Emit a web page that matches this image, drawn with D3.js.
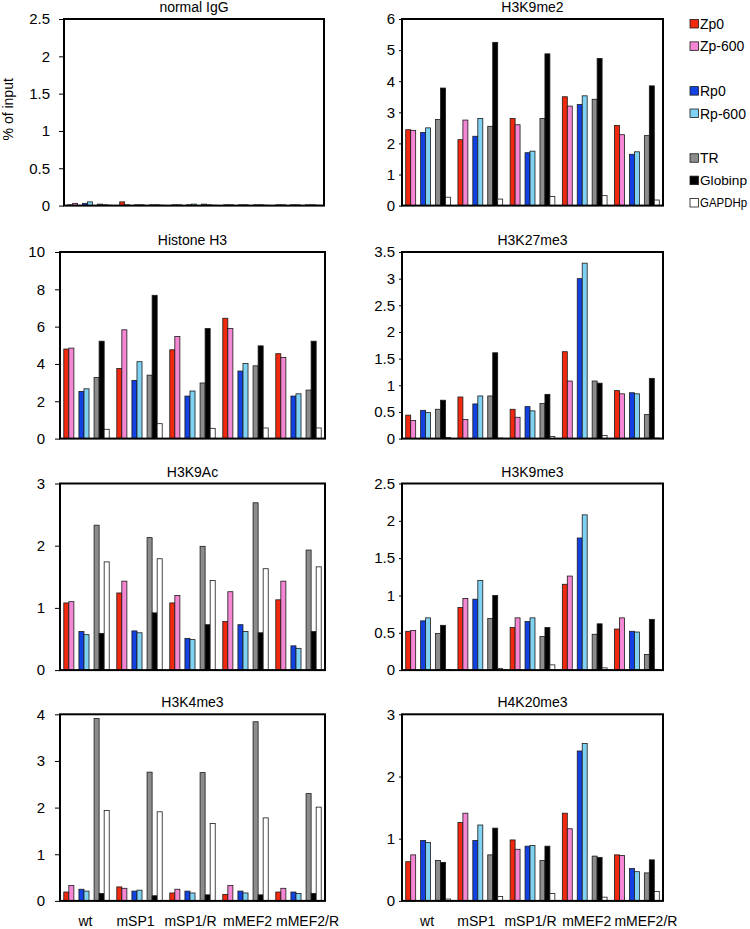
<!DOCTYPE html>
<html><head><meta charset="utf-8">
<script src="https://cdn.jsdelivr.net/npm/d3@7"></script>
<style>
body{margin:0;background:#fff;}
svg{display:block;}
text{font-family:Arial,"Liberation Sans",Helvetica,sans-serif;fill:#000;}
</style>
</head><body>
<svg id="chart" width="750" height="929"></svg>
<script>
// ---------- DATA ----------
const groups = ["wt", "mSP1", "mSP1/R", "mMEF2", "mMEF2/R"];
const series = ["Zp0", "Zp-600", "Rp0", "Rp-600", "TR", "Globinp", "GAPDHp"];
// layout slots of the original clustered chart (two blank spacer series)
const slots = ["Zp0", "Zp-600", "_gap1", "Rp0", "Rp-600", "_gap2", "TR", "Globinp", "GAPDHp"];
const seriesColors = ["#f0290f", "#f586d3", "#1243e2", "#80d2f3", "#8c8c8c", "#000000", "#ffffff"];

// values: one row per group, columns follow `series`
const normalIgG = [
  [0.01, 0.03, 0.03, 0.05, 0.02, 0.01, 0.005],
  [0.05, 0.01, 0.01, 0.01, 0.01, 0.01, 0.005],
  [0.01, 0.01, 0.01, 0.02, 0.02, 0.01, 0.005],
  [0.01, 0.01, 0.01, 0.01, 0.01, 0.01, 0.005],
  [0.01, 0.01, 0.01, 0.01, 0.01, 0.01, 0.005]
];
const h3k9me2 = [
  [2.44, 2.42, 2.35, 2.50, 2.77, 3.78, 0.27],
  [2.12, 2.75, 2.23, 2.80, 2.55, 5.25, 0.21],
  [2.80, 2.60, 1.70, 1.75, 2.80, 4.88, 0.29],
  [3.50, 3.20, 3.25, 3.53, 3.42, 4.73, 0.32],
  [2.58, 2.28, 1.65, 1.73, 2.25, 3.85, 0.18]
];
const histoneH3 = [
  [4.80, 4.85, 2.53, 2.67, 3.27, 5.22, 0.50],
  [3.76, 5.83, 3.12, 4.12, 3.40, 7.68, 0.80],
  [4.76, 5.47, 2.28, 2.55, 2.98, 5.90, 0.55],
  [6.45, 5.90, 3.62, 4.02, 3.90, 4.97, 0.57],
  [4.55, 4.35, 2.28, 2.40, 2.60, 5.22, 0.57]
];
const h3k27me3 = [
  [0.44, 0.34, 0.53, 0.49, 0.55, 0.72, 0.02],
  [0.78, 0.36, 0.65, 0.80, 0.80, 1.61, 0.01],
  [0.55, 0.40, 0.60, 0.52, 0.66, 0.83, 0.04],
  [1.63, 1.08, 3.00, 3.29, 1.08, 1.04, 0.06],
  [0.90, 0.84, 0.86, 0.84, 0.45, 1.13, 0.01]
];
const h3k9ac = [
  [1.08, 1.10, 0.62, 0.57, 2.33, 0.59, 1.74],
  [1.24, 1.43, 0.63, 0.60, 2.13, 0.92, 1.79],
  [1.08, 1.20, 0.51, 0.49, 1.99, 0.73, 1.44],
  [0.78, 1.26, 0.73, 0.62, 2.69, 0.60, 1.63],
  [1.13, 1.43, 0.39, 0.35, 1.93, 0.62, 1.66]
];
const h3k9me3 = [
  [0.52, 0.53, 0.66, 0.70, 0.49, 0.60, 0.01],
  [0.84, 0.96, 0.95, 1.20, 0.69, 1.00, 0.02],
  [0.57, 0.70, 0.65, 0.70, 0.45, 0.57, 0.07],
  [1.15, 1.26, 1.77, 2.08, 0.48, 0.62, 0.03],
  [0.55, 0.70, 0.52, 0.51, 0.21, 0.68, 0.01]
];
const h3k4me3 = [
  [0.19, 0.33, 0.25, 0.21, 3.91, 0.16, 1.94],
  [0.30, 0.27, 0.21, 0.23, 2.76, 0.11, 1.91],
  [0.17, 0.25, 0.21, 0.17, 2.75, 0.13, 1.66],
  [0.14, 0.33, 0.21, 0.17, 3.84, 0.13, 1.78],
  [0.19, 0.27, 0.19, 0.16, 2.30, 0.16, 2.01]
];
const h4k20me3 = [
  [0.63, 0.74, 0.97, 0.94, 0.65, 0.62, 0.03],
  [1.26, 1.41, 0.97, 1.22, 0.74, 1.17, 0.07],
  [0.98, 0.83, 0.88, 0.89, 0.65, 0.88, 0.12],
  [1.41, 1.16, 2.41, 2.53, 0.72, 0.70, 0.06],
  [0.74, 0.73, 0.52, 0.47, 0.45, 0.66, 0.15]
];

const panelTitles = ["normal IgG", "H3K9me2", "Histone H3", "H3K27me3", "H3K9Ac", "H3K9me3", "H3K4me3", "H4K20me3"];
const panelValues = [normalIgG, h3k9me2, histoneH3, h3k27me3, h3k9ac, h3k9me3, h3k4me3, h4k20me3];
const panelTicks = [
  [0, 0.5, 1, 1.5, 2, 2.5],
  [0, 1, 2, 3, 4, 5, 6],
  [0, 2, 4, 6, 8, 10],
  [0, 0.5, 1, 1.5, 2, 2.5, 3, 3.5],
  [0, 1, 2, 3],
  [0, 0.5, 1, 1.5, 2, 2.5],
  [0, 1, 2, 3, 4],
  [0, 1, 2, 3]
];
const yAxisLabel = "% of input";

// ---------- LAYOUT ----------
const svg = d3.select("#chart");
const rowTops = [19, 252, 483.5, 714.3];
const plotH = 186.6;
const colX = [[60, 325], [402, 663]];
// small horizontal nudges of the category labels (as typeset in the original)
const labelNudge = [-1, -4, -2, 2, 9];

const color = d3.scaleOrdinal(series, seriesColors);

panelTitles.forEach((title, i) => {
  const col = i % 2, row = Math.floor(i / 2);
  let [x0p, x1p] = colX[col];
  if (i === 0) { x0p = 64; x1p = 324; }
  const top = rowTops[row], bottom = top + plotH;
  const ticks = panelTicks[i];
  const yMax = ticks[ticks.length - 1];

  const x0 = d3.scaleBand(groups, [x0p, x1p]).paddingInner(0).paddingOuter(0);
  const x1 = d3.scaleBand(slots, [0, x0.bandwidth()]).paddingInner(0).paddingOuter(0.75);
  const y = d3.scaleLinear([0, yMax], [bottom, top]);

  const g = svg.append("g");

  // bars
  const vals = panelValues[i];
  groups.forEach((grp, gi) => {
    g.append("g").selectAll("rect")
      .data(series.map((s, si) => ({ s, v: vals[gi][si] })))
      .join("rect")
      .attr("x", d => x0(grp) + x1(d.s))
      .attr("width", x1.bandwidth())
      .attr("y", d => y(d.v))
      .attr("height", d => y(0) - y(d.v))
      .attr("fill", d => color(d.s))
      .attr("stroke", "#1a1a1a")
      .attr("stroke-width", 0.8);
  });

  // y axis
  const ax = g.append("g")
    .attr("transform", `translate(${x0p},0)`)
    .call(d3.axisLeft(y).tickValues(ticks).tickFormat(d => String(d))
      .tickSize(col === 0 ? 5 : 3).tickPadding(col === 0 ? (i === 0 ? 9 : 10) : 4));
  ax.select(".domain").remove();
  ax.selectAll("text").attr("font-size", 15).style("font-family", "Arial, 'Liberation Sans', sans-serif");
  ax.selectAll("line").attr("stroke", "#000").attr("stroke-width", 1);

  // frame
  g.append("rect")
    .attr("x", x0p).attr("y", top)
    .attr("width", x1p - x0p).attr("height", bottom - top)
    .attr("fill", "none").attr("stroke", "#000").attr("stroke-width", 2);

  // title
  g.append("text")
    .attr("x", (x0p + x1p) / 2).attr("y", top - 7)
    .attr("text-anchor", "middle").attr("font-size", 14)
    .text(title);

  // category labels on bottom row
  if (row === 3) {
    g.append("g").selectAll("text")
      .data(groups).join("text")
      .attr("x", (d, k) => x0(d) + x0.bandwidth() / 2 + labelNudge[k])
      .attr("y", 926)
      .attr("text-anchor", "middle").attr("font-size", 14)
      .text(d => d);
  }
});

// y axis title
svg.append("text")
  .attr("transform", `translate(13,${(rowTops[0] + rowTops[0] + plotH) / 2 - 3}) rotate(-90)`)
  .attr("text-anchor", "middle").attr("font-size", 14)
  .text(yAxisLabel);

// legend (spacer slots leave blank rows)
const legendY = d3.scalePoint(slots, [24, 203]);
const leg = svg.append("g");
slots.forEach(s => {
  const si = series.indexOf(s);
  if (si < 0) return;
  leg.append("rect")
    .attr("x", 690).attr("y", legendY(s) - 4.5)
    .attr("width", 8.5).attr("height", 8.5)
    .attr("fill", seriesColors[si]).attr("stroke", "#1a1a1a").attr("stroke-width", 0.8);
  const t = leg.append("text")
    .attr("x", 700).attr("y", legendY(s)).attr("dy", "0.36em")
    .attr("font-size", 14).text(s);
  if (700 + t.node().getComputedTextLength() > 748) {
    t.attr("font-size", 12).attr("textLength", 47).attr("lengthAdjust", "spacingAndGlyphs");
  }
});
</script>
</body></html>
